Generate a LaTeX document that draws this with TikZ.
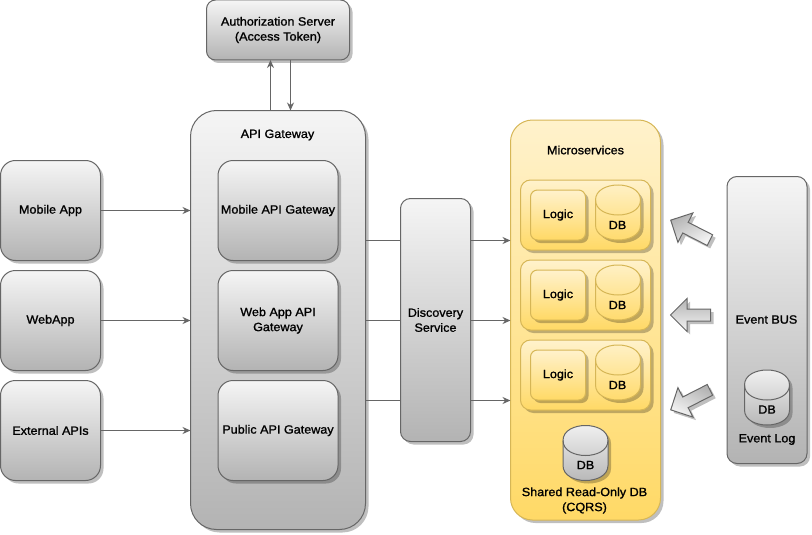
\documentclass[tikz,border=0pt]{standalone}
\usepackage{fontspec}
\setmainfont{Liberation Sans}[FakeStretch=1.05,FakeBold=1.2]
\usetikzlibrary{arrows.meta,shadows,shapes.arrows}
\definecolor{graytop}{RGB}{245,245,245}
\definecolor{graybot}{RGB}{179,179,179}
\definecolor{grayline}{RGB}{102,102,102}
\definecolor{yellowtop}{RGB}{255,242,204}
\definecolor{yellowbot}{RGB}{255,217,102}
\definecolor{yellowline}{RGB}{214,182,86}
\tikzset{
  boxshadow/.style={drop shadow={shadow xshift=3pt,shadow yshift=-3pt,fill=black,opacity=0.25}},
  graybox/.style={shape=rectangle,draw=grayline,top color=graytop,bottom color=graybot,line width=1pt,boxshadow,inner sep=0pt,outer sep=0pt,align=center},
  yellowbox/.style={shape=rectangle,draw=yellowline,top color=yellowtop,bottom color=yellowbot,line width=1pt,boxshadow,inner sep=0pt,outer sep=0pt,align=center},
  graydb/.style={draw=grayline,top color=graytop,bottom color=graybot,line width=1pt,boxshadow},
  yellowdb/.style={draw=yellowline,top color=yellowtop,bottom color=yellowbot,line width=1pt,boxshadow},
  blockarrow/.style={shape=single arrow,draw=grayline,top color=graytop,bottom color=graybot,line width=1pt,boxshadow,single arrow head extend=10.5pt,single arrow head indent=0pt,inner sep=5.5pt,outer sep=0pt},
  flow/.style={draw=grayline,line width=1pt,-{Stealth[length=8pt,width=7pt]}},
  caption/.style={align=center,inner sep=0pt},
}
% drum of 45 by 55 whose top is at #3, with a line colour from #1
\newcommand{\drumshape}[4]{
    \path[#1] ({#3-22.5},{#4+15}) .. controls ({#3-22.5},{#4-5}) and ({#3+22.5},{#4-5}) .. ({#3+22.5},{#4+15}) -- ({#3+22.5},{#4+40}) .. controls ({#3+22.5},{#4+60}) and ({#3-22.5},{#4+60}) .. ({#3-22.5},{#4+40}) -- cycle;
    \draw[#2,line width=1pt] ({#3-22.5},{#4+15}) .. controls ({#3-22.5},{#4+35}) and ({#3+22.5},{#4+35}) .. ({#3+22.5},{#4+15});
}
\begin{document}
\begin{tikzpicture}[x=1pt,y=-1pt,every node/.append style={font=\fontsize{12pt}{15pt}\selectfont}]
    \useasboundingbox (0.5,0.5) rectangle (812.5,535.5);
    % clients
    \node (mobile) [graybox,rounded corners=15pt,minimum width=100pt,minimum height=100pt] at (51,211) {Mobile App};
    \node (webapp) [graybox,rounded corners=15pt,minimum width=100pt,minimum height=100pt] at (51,321) {WebApp};
    \node (external) [graybox,rounded corners=15pt,minimum width=100pt,minimum height=100pt] at (51,431) {External APIs};
    % gateway
    \node (auth) [graybox,rounded corners=9pt,minimum width=143pt,minimum height=60pt] at (278.5,30.5) {Authorization Server\\(Access Token)};
    \node (gateway) [graybox,rounded corners=26pt,minimum width=175pt,minimum height=419pt] at (278.5,320.5) {};
    \node (gatewaytitle) [caption] at (278,135.5) {API Gateway};
    \node (mobilegw) [graybox,rounded corners=15pt,minimum width=120pt,minimum height=100pt] at (278.5,211) {Mobile API Gateway};
    \node (webgw) [graybox,rounded corners=15pt,minimum width=120pt,minimum height=100pt] at (278.5,321) {Web App API\\Gateway};
    \node (publicgw) [graybox,rounded corners=15pt,minimum width=120pt,minimum height=100pt] at (278.5,431) {Public API Gateway};
    \node (discovery) [graybox,rounded corners=10pt,minimum width=70pt,minimum height=243pt] at (436,320.5) {Discovery\\Service};
    % microservices
    \node (micro) [yellowbox,rounded corners=22pt,minimum width=150pt,minimum height=400pt] at (586,320.5) {};
    \node (microtitle) [caption] at (586,150.5) {Microservices};
    \node (svcone) [yellowbox,rounded corners=10pt,minimum width=130pt,minimum height=70pt] at (586,215.5) {};
    \node (svctwo) [yellowbox,rounded corners=10pt,minimum width=130pt,minimum height=70pt] at (586,295.5) {};
    \node (svcthree) [yellowbox,rounded corners=10pt,minimum width=130pt,minimum height=70pt] at (586,375.5) {};
    \node (logicone) [yellowbox,rounded corners=7pt,minimum width=55pt,minimum height=50pt] at (558.5,215.5) {Logic};
    \node (logictwo) [yellowbox,rounded corners=7pt,minimum width=55pt,minimum height=50pt] at (558.5,295.5) {Logic};
    \node (logicthree) [yellowbox,rounded corners=7pt,minimum width=55pt,minimum height=50pt] at (558.5,375.5) {Logic};
    \drumshape{yellowdb}{yellowline}{618.5}{185.5}
    \drumshape{yellowdb}{yellowline}{618.5}{265.5}
    \drumshape{yellowdb}{yellowline}{618.5}{345.5}
    \node (dbonetext) [caption] at (618,225.5) {DB};
    \node (dbtwotext) [caption] at (618,305.5) {DB};
    \node (dbthreetext) [caption] at (618,385.5) {DB};
    \drumshape{graydb}{grayline}{586}{426}
    \node (shareddbtext) [caption] at (586,465.5) {DB};
    \node (sharedtitle) [caption] at (585,501) {Shared Read-Only DB\\(CQRS)};
    % event bus
    \node (eventbus) [graybox,rounded corners=10pt,minimum width=80pt,minimum height=287pt] at (767.5,320.5) {};
    \node (eventtitle) [caption] at (767,320) {Event BUS};
    \drumshape{graydb}{grayline}{767.5}{370.5}
    \node (eventdbtext) [caption] at (767.5,410) {DB};
    \node (eventlog) [caption] at (767.5,440) {Event Log};
    \node (pushone) [blockarrow,minimum width=31pt,minimum height=44pt,rotate=153,shading angle=-153] at (693.5,232) {};
    \node (pushtwo) [blockarrow,minimum width=33pt,minimum height=40pt,rotate=180,shading angle=-180] at (694,315.5) {};
    \node (pushthree) [blockarrow,minimum width=31pt,minimum height=44pt,rotate=207,shading angle=-207] at (693.5,399) {};
    % connectors
    \coordinate (routeone) at (0,241);
    \coordinate (routetwo) at (0,321);
    \coordinate (routethree) at (0,401);
    \coordinate (authup) at (271,0);
    \coordinate (authdown) at (291,0);
    \draw[flow] (mobile.east) to (mobile.east -| gateway.west);
    \draw[flow] (webapp.east) to (webapp.east -| gateway.west);
    \draw[flow] (external.east) to (external.east -| gateway.west);
    \draw[flow] (authup |- gateway.north) to (authup |- auth.south);
    \draw[flow] (authdown |- auth.south) to (authdown |- gateway.north);
    \draw[draw=grayline,line width=1pt] (routeone -| gateway.east) to (routeone -| discovery.west);
    \draw[draw=grayline,line width=1pt] (routetwo -| gateway.east) to (routetwo -| discovery.west);
    \draw[draw=grayline,line width=1pt] (routethree -| gateway.east) to (routethree -| discovery.west);
    \draw[flow] (routeone -| discovery.east) to (routeone -| micro.west);
    \draw[flow] (routetwo -| discovery.east) to (routetwo -| micro.west);
    \draw[flow] (routethree -| discovery.east) to (routethree -| micro.west);
\end{tikzpicture}
\end{document}
